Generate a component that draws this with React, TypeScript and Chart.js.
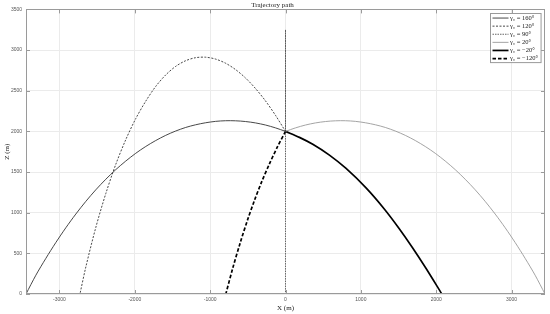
import React, { useEffect, useRef } from "react";
import { Chart, registerables } from "chart.js";
Chart.register(...registerables);

const TITLE = "Trajectory path";
const X_LABEL = "X (m)";
const Y_LABEL = "Z (m)";
const X_TICKS = [-3000, -2000, -1000, 0, 1000, 2000, 3000];
const X_MIN = -3444;
const X_MAX = 3444;
const Y_MIN = 0;
const Y_MAX = 3500;
const Y_STEP = 500;

const LABELS = ["γ₀ = 160°", "γ₀ = 120°", "γ₀ = 90°", "γ₀ = 20°", "γ₀ = −20°", "γ₀ = −120°"];

const X_160 = [0, -133, -265, -398, -530, -663, -795, -928, -1060, -1193, -1325, -1458, -1590, -1723, -1855, -1988, -2120, -2253, -2385, -2518, -2650, -2783, -2915, -3048, -3180, -3313, -3444];
const Z_160 = [2000, 2043, 2078, 2104, 2121, 2130, 2131, 2123, 2106, 2081, 2048, 2004, 1951, 1887, 1814, 1730, 1635, 1529, 1411, 1281, 1139, 983, 815, 633, 439, 231, 0];

const X_120 = [0, -133, -265, -398, -530, -663, -795, -928, -1060, -1193, -1325, -1458, -1590, -1723, -1855, -1988, -2120, -2253, -2385, -2518, -2650, -2728];
const Z_120 = [2000, 2198, 2374, 2527, 2656, 2760, 2838, 2889, 2912, 2906, 2869, 2799, 2694, 2552, 2371, 2156, 1898, 1593, 1235, 817, 332, 0];

const X_90 = [0, 0, 0];
const Z_90 = [2000, 3250, 0];

const X_20 = [0, 133, 265, 398, 530, 663, 795, 928, 1060, 1193, 1325, 1458, 1590, 1723, 1855, 1988, 2120, 2253, 2385, 2518, 2650, 2783, 2915, 3048, 3180, 3313, 3444];
const Z_20 = [2000, 2043, 2078, 2104, 2121, 2130, 2131, 2123, 2106, 2081, 2048, 2004, 1951, 1887, 1814, 1730, 1635, 1529, 1411, 1281, 1139, 983, 815, 633, 439, 231, 0];

const X_M20 = [0, 185, 362, 583, 804, 1069, 1311, 1510, 1686, 1864, 2075];
const Z_M20 = [2000, 1926, 1841, 1708, 1544, 1305, 1046, 803, 569, 316, 0];

const X_M120 = [0, -106, -212, -318, -411, -503, -596, -702, -792];
const Z_M120 = [2000, 1811, 1603, 1375, 1154, 913, 645, 311, 0];

const SERIES_X = [X_160, X_120, X_90, X_20, X_M20, X_M120];
const SERIES_Z = [Z_160, Z_120, Z_90, Z_20, Z_M20, Z_M120];
const COLORS = ["#333333", "#333333", "#555555", "#9a9a9a", "#000000", "#000000"];
const WIDTHS = [0.9, 0.9, 0.9, 0.9, 1.7, 1.7];
const DASHES: number[][] = [[], [2, 1.5], [1.5, 1], [], [], [3.5, 2]];

const AXIS_COLOR = "#9a9a9a";
const GRID_COLOR = "#ebebeb";
const SERIF = "'Liberation Serif', 'DejaVu Serif', serif";
const SANS = "'Liberation Sans', Arial, sans-serif";

const framePlugin = {
  id: "matlabFrame",
  afterDatasetsDraw(chart: any) {
    const { ctx, chartArea } = chart;
    const { left, right, top, bottom } = chartArea;
    const xs = chart.scales.x;
    const ys = chart.scales.y;
    ctx.save();
    ctx.strokeStyle = AXIS_COLOR;
    ctx.lineWidth = 1;
    ctx.setLineDash([]);
    ctx.strokeRect(Math.round(left) + 0.5, Math.round(top) + 0.5, Math.round(right - left) - 1, Math.round(bottom - top) - 1);
    const tl = 4;
    ctx.beginPath();
    xs.ticks.forEach((t: any) => {
      const px = Math.round(xs.getPixelForValue(t.value)) + 0.5;
      ctx.moveTo(px, bottom);
      ctx.lineTo(px, bottom - tl);
      ctx.moveTo(px, top);
      ctx.lineTo(px, top + tl);
    });
    ys.ticks.forEach((t: any) => {
      const py = Math.round(ys.getPixelForValue(t.value)) + 0.5;
      ctx.moveTo(left, py);
      ctx.lineTo(left + tl, py);
      ctx.moveTo(right, py);
      ctx.lineTo(right - tl, py);
    });
    ctx.stroke();
    ctx.restore();
  },
};

const legendPlugin = {
  id: "matlabLegend",
  afterDraw(chart: any) {
    const { ctx, chartArea } = chart;
    const ds = chart.data.datasets;
    ctx.save();
    ctx.font = `6.5px ${SERIF}`;
    let maxW = 0;
    ds.forEach((d: any) => {
      maxW = Math.max(maxW, ctx.measureText(d.label).width);
    });
    const rowH = 8.1;
    const lineLen = 16;
    const padL = 2;
    const gap = 1.5;
    const padR = 3;
    const w = padL + lineLen + gap + maxW + padR;
    const h = rowH * ds.length + 0.5;
    const x0 = Math.round(chartArea.right - 4 - w) + 0.5;
    const y0 = Math.round(chartArea.top + 4) + 0.5;
    ctx.fillStyle = "#ffffff";
    ctx.fillRect(x0, y0, w, h);
    ctx.strokeStyle = AXIS_COLOR;
    ctx.lineWidth = 1;
    ctx.strokeRect(x0, y0, w, h);
    ds.forEach((d: any, i: number) => {
      const cy = y0 + 0.5 + rowH * (i + 0.5);
      ctx.beginPath();
      ctx.setLineDash(d.borderDash || []);
      ctx.strokeStyle = d.borderColor;
      ctx.lineWidth = d.borderWidth;
      ctx.moveTo(x0 + padL, cy);
      ctx.lineTo(x0 + padL + lineLen, cy);
      ctx.stroke();
      ctx.setLineDash([]);
      ctx.fillStyle = "#222222";
      ctx.textBaseline = "middle";
      ctx.textAlign = "left";
      ctx.fillText(d.label, x0 + padL + lineLen + gap, cy);
    });
    ctx.restore();
  },
};

export default function App() {
  const ref = useRef<HTMLCanvasElement | null>(null);
  useEffect(() => {
    document.body.style.margin = "0";
    const canvas = ref.current;
    if (!canvas) return;
    const datasets = SERIES_X.map((xs, i) => ({
      label: LABELS[i],
      data: xs.map((x, j) => ({ x, y: SERIES_Z[i][j] })),
      borderColor: COLORS[i],
      backgroundColor: COLORS[i],
      borderWidth: WIDTHS[i],
      borderDash: DASHES[i],
      showLine: true,
      pointRadius: 0,
      tension: i === 2 ? 0 : 0.3,
      fill: false,
    }));
    const chart = new Chart(canvas, {
      type: "scatter",
      data: { datasets },
      options: {
        animation: false,
        responsive: false,
        devicePixelRatio: 1,
        layout: { padding: { top: 0, right: 5, left: 0, bottom: 0 } },
        plugins: {
          legend: { display: false },
          tooltip: { enabled: false },
          title: {
            display: true,
            text: TITLE,
            color: "#222222",
            font: { family: SERIF, size: 7, weight: "normal", lineHeight: 1.2 },
            padding: { top: 1, bottom: 0 },
          },
        },
        scales: {
          x: {
            type: "linear",
            min: X_MIN,
            max: X_MAX,
            afterBuildTicks: (scale: any) => {
              scale.ticks = X_TICKS.map((v) => ({ value: v }));
            },
            afterFit: (scale: any) => {
              scale.height = 20;
            },
            grid: { color: GRID_COLOR, drawTicks: false, lineWidth: 1 },
            border: { display: false },
            ticks: {
              padding: 3,
              color: "#555555",
              font: { family: SANS, size: 5 },
              maxRotation: 0,
              autoSkip: false,
              callback: (v: any) => String(v),
            },
            title: {
              display: true,
              text: X_LABEL,
              color: "#222222",
              font: { family: SERIF, size: 7, lineHeight: 1.2 },
              padding: { top: 0, bottom: 2 },
            },
          },
          y: {
            type: "linear",
            min: Y_MIN,
            max: Y_MAX,
            afterFit: (scale: any) => {
              scale.width = 26;
            },
            grid: { color: GRID_COLOR, drawTicks: false, lineWidth: 1 },
            border: { display: false },
            ticks: {
              stepSize: Y_STEP,
              padding: 4,
              color: "#555555",
              font: { family: SANS, size: 5 },
              callback: (v: any) => String(v),
            },
            title: {
              display: true,
              text: Y_LABEL,
              color: "#222222",
              font: { family: SERIF, size: 7, lineHeight: 1.2 },
              padding: { top: 3, bottom: 0 },
            },
          },
        },
      },
      plugins: [framePlugin, legendPlugin],
    });
    return () => chart.destroy();
  }, []);
  return (
    <div style={{ width: 550, height: 314 }}>
      <canvas ref={ref} width={550} height={314} style={{ width: 550, height: 314, display: "block" }} />
    </div>
  );
}
